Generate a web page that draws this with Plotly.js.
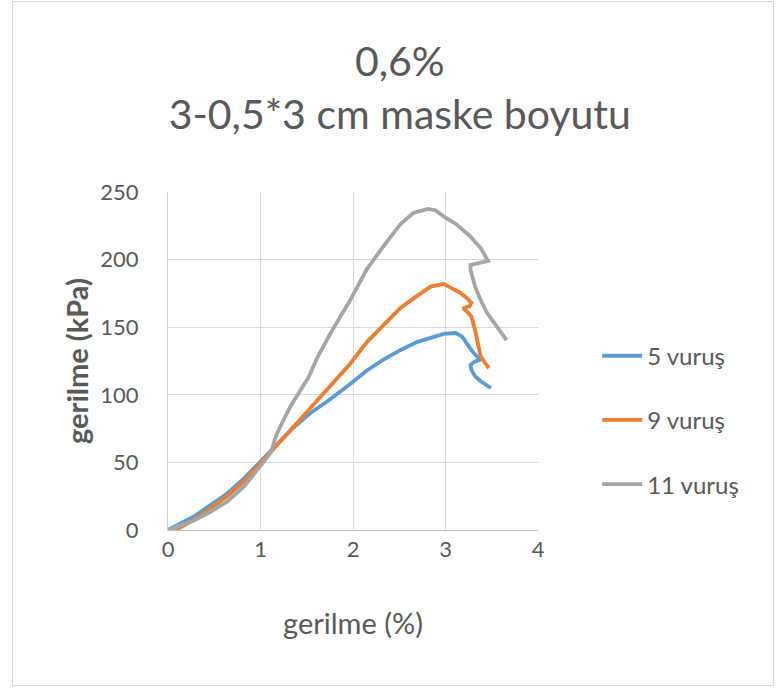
<!DOCTYPE html>
<html>
<head>
<meta charset="utf-8">
<script src="https://cdn.plot.ly/plotly-3.0.1.min.js"></script>
<style>
  html, body { margin: 0; padding: 0; background: #fff; }
  #wrap { position: relative; width: 781px; height: 691px; }
  #chart { position: absolute; left: 0; top: 0; width: 781px; height: 691px; }
  #frame { position: absolute; left: 12px; top: 1px; width: 760px; height: 683px;
           border: 1.5px solid #d9d9d9; pointer-events: none; }
</style>
</head>
<body>
<div id="wrap">
  <div id="chart"></div>
  <div id="frame"></div>
</div>
<script>
// ---- data ----
const seriesNames = ["5 vuruş", "9 vuruş", "11 vuruş"];

const x5 = [0, 0.10, 0.28, 0.46, 0.64, 0.82, 1.00, 1.18, 1.36, 1.54, 1.72, 1.97, 2.15, 2.33, 2.51, 2.69, 2.84, 2.98, 3.11, 3.18, 3.23, 3.28, 3.34, 3.38, 3.32, 3.27, 3.28, 3.32, 3.38, 3.43, 3.49];
const y5 = [0, 3.5, 10, 18.5, 27, 38, 51, 64, 76, 86.5, 95, 108, 118, 126, 133, 139, 142, 145, 145.7, 143, 138, 133, 128.4, 126, 124.7, 122.2, 118.5, 113.6, 110, 107.4, 105];

const x9 = [0.08, 0.28, 0.46, 0.64, 0.82, 1.00, 1.18, 1.36, 1.54, 1.72, 1.97, 2.15, 2.33, 2.51, 2.69, 2.84, 2.98, 3.07, 3.16, 3.23, 3.28, 3.26, 3.19, 3.23, 3.28, 3.32, 3.36, 3.38, 3.43, 3.47];
const y9 = [0, 7.5, 16, 25, 36, 49, 63, 76.5, 90, 104, 123, 139, 152, 164, 173, 180, 182, 179, 175.5, 171.6, 168, 165.5, 164, 161.7, 158, 148, 136, 128.4, 123.5, 119.8];

const x11 = [0, 0.28, 0.46, 0.64, 0.82, 0.96, 1.11, 1.16, 1.21, 1.32, 1.43, 1.52, 1.61, 1.76, 1.97, 2.15, 2.33, 2.51, 2.65, 2.81, 2.89, 3.00, 3.12, 3.27, 3.38, 3.45, 3.46, 3.27, 3.27, 3.32, 3.38, 3.45, 3.55, 3.66];
const y11 = [0, 7, 13.5, 21, 32, 44, 57, 68, 76, 91, 103, 113, 127, 146, 170, 193, 210, 226, 234.5, 237.5, 236.5, 231, 226, 217, 208.5, 201, 199, 196, 192.5, 180, 170, 160.5, 150.5, 140.5];

const xTickVals = [0, 1, 2, 3, 4];
const yTickVals = [0, 50, 100, 150, 200, 250];

const titleText = "0,6%<br>3-0,5*3 cm maske boyutu";
const xTitle = "gerilme (%)";
const yTitle = "<b>gerilme (kPa)</b>";

// ---- styling ----
const colors = ["#5B9BD5", "#ED7D31", "#A5A5A5"];
const FONT = "Lato, 'Open Sans', sans-serif";
const TXT = "#595959";

const xs = [x5, x9, x11];
const ys = [y5, y9, y11];

const traces = xs.map((xv, i) => ({
  x: xv, y: ys[i], type: "scatter", mode: "lines",
  name: seriesNames[i], legendgroup: "g" + i,
  line: { color: colors[i], width: 3.8 }
}));

const layout = {
  width: 781, height: 691,
  margin: { l: 168, r: 243, t: 192, b: 161, pad: 0 },
  paper_bgcolor: "#ffffff", plot_bgcolor: "#ffffff",
  font: { family: FONT, color: TXT },
  title: {
    text: titleText,
    font: { family: FONT, size: 41, color: TXT },
    x: 0.512, xanchor: "center", xref: "container",
    y: 0.89, yanchor: "top", yref: "container"
  },
  xaxis: {
    range: [0, 4], tickvals: xTickVals, ticktext: xTickVals.map(String),
    showgrid: true, gridcolor: "#d9d9d9", gridwidth: 1,
    zeroline: false, showline: true, linecolor: "#bfbfbf", linewidth: 1,
    ticks: "", tickfont: { size: 22, color: TXT },
    title: { text: xTitle, font: { size: 29, color: TXT }, standoff: 52 },
    fixedrange: true
  },
  yaxis: {
    range: [0, 250], tickvals: yTickVals, ticktext: yTickVals.map(String),
    showgrid: true, gridcolor: "#d9d9d9", gridwidth: 1,
    zeroline: false, showline: true, linecolor: "#d0d0d0", linewidth: 1,
    ticks: "", tickfont: { size: 22, color: TXT },
    ticklabelstandoff: 24,
    title: { text: yTitle, font: { size: 29, color: TXT }, standoff: 3 },
    fixedrange: true
  },
  showlegend: true,
  legend: {
    x: 1.16, xanchor: "left", y: 0.325, yanchor: "middle",
    font: { size: 24, color: TXT },
    tracegroupgap: 30, itemwidth: 40,
    bgcolor: "rgba(0,0,0,0)"
  }
};

Plotly.newPlot("chart", traces, layout, { staticPlot: true, displayModeBar: false });
</script>
</body>
</html>
